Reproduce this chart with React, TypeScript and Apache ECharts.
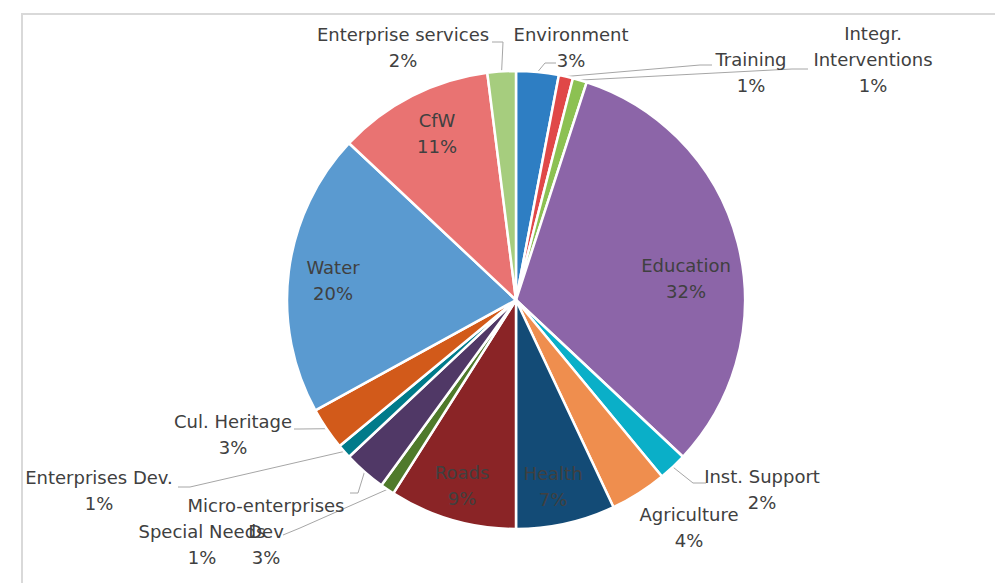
import React, { useEffect, useRef } from "react";
import * as echarts from "echarts";

const categories = [
  "Environment",
  "Training",
  "Integr. Interventions",
  "Education",
  "Inst. Support",
  "Agriculture",
  "Health",
  "Roads",
  "Special Needs",
  "Micro-enterprises Dev",
  "Enterprises Dev.",
  "Cul. Heritage",
  "Water",
  "CfW",
  "Enterprise services",
];
const shares = [3, 1, 1, 32, 2, 4, 7, 9, 1, 3, 1, 3, 20, 11, 2];
const colors = [
  "#2E7EC3", "#E04848", "#8CC152", "#8C65A8", "#0AAFC8",
  "#EF8E4E", "#134B76", "#8A2426", "#4F7A2B", "#503866",
  "#007B8A", "#D25A1A", "#5A9AD0", "#E97372", "#A6CD7E",
];
const insideLabels = ["Education", "Health", "Roads", "Water", "CfW"];
const wrappedNames: Record<string, string> = {
  "Integr. Interventions": "Integr.\nInterventions",
  "Micro-enterprises Dev": "Micro-enterprises\nDev",
};

// label layout (centre of each label block)
const labelPos: Record<string, number[]> = {
  Environment: [571, 47],
  Training: [751, 72],
  "Integr. Interventions": [873, 59],
  Education: [686, 278],
  "Inst. Support": [762, 489],
  Agriculture: [689, 527],
  Health: [553, 486],
  Roads: [462, 485],
  "Special Needs": [202, 544],
  "Micro-enterprises Dev": [266, 531],
  "Enterprises Dev.": [99, 490],
  "Cul. Heritage": [233, 434],
  Water: [333, 280],
  CfW: [437, 133],
  "Enterprise services": [403, 47],
};
// leader line tail points (label side)
const leaderTail: Record<string, number[][]> = {
  Environment: [[545, 63], [556, 63]],
  Training: [[700, 65], [712, 65]],
  "Integr. Interventions": [[792, 69], [808, 69]],
  "Inst. Support": [[693, 483], [706, 483]],
  "Special Needs": [[300, 528], [283, 535]],
  "Micro-enterprises Dev": [[358, 493], [350, 493]],
  "Enterprises Dev.": [[190, 487], [178, 487]],
  "Cul. Heritage": [[300, 429], [294, 429]],
  "Enterprise services": [[503, 42], [492, 42]],
};

export default function App() {
  const ref = useRef<HTMLDivElement>(null);
  useEffect(() => {
    if (!ref.current) return;
    const chart = echarts.init(ref.current, undefined, { renderer: "svg" });
    const data = categories.map((name, i) => {
      const item: any = { name, value: shares[i], itemStyle: { color: colors[i] } };
      if (wrappedNames[name]) {
        item.label = { formatter: wrappedNames[name] + "\n{d}%" };
      }
      if (insideLabels.includes(name) || !leaderTail[name]) {
        item.labelLine = { show: false };
      }
      return item;
    });
    chart.setOption({
      animation: false,
      backgroundColor: "#ffffff",
      graphic: [
        {
          type: "rect",
          shape: { x: 22, y: 14, width: 1000, height: 600 },
          style: { fill: "none", stroke: "#d9d9d9", lineWidth: 2 },
          silent: true,
        },
      ],
      series: [
        {
          type: "pie",
          center: [516, 300],
          radius: [0, 229],
          startAngle: 90,
          clockwise: true,
          percentPrecision: 0,
          avoidLabelOverlap: false,
          itemStyle: { borderColor: "#ffffff", borderWidth: 2.5 },
          label: {
            show: true,
            position: "outside",
            formatter: "{b}\n{d}%",
            color: "#404040",
            fontFamily: "DejaVu Sans",
            fontSize: 18,
            lineHeight: 26,
            align: "center",
          },
          labelLine: {
            show: true,
            length: 10,
            length2: 10,
            lineStyle: { color: "#a6a6a6", width: 1 },
          },
          labelLayout: (params: any) => {
            const name = categories[params.dataIndex];
            const p = labelPos[name];
            const out: any = { x: p[0], y: p[1], align: "center", verticalAlign: "middle" };
            const tail = leaderTail[name];
            if (tail && params.labelLinePoints) {
              out.labelLinePoints = [params.labelLinePoints[0], ...tail];
            }
            return out;
          },
          data,
        },
      ],
    });
    return () => chart.dispose();
  }, []);
  return (
    <div
      ref={ref}
      style={{ position: "absolute", left: 0, top: 0, width: 995, height: 583 }}
    />
  );
}
